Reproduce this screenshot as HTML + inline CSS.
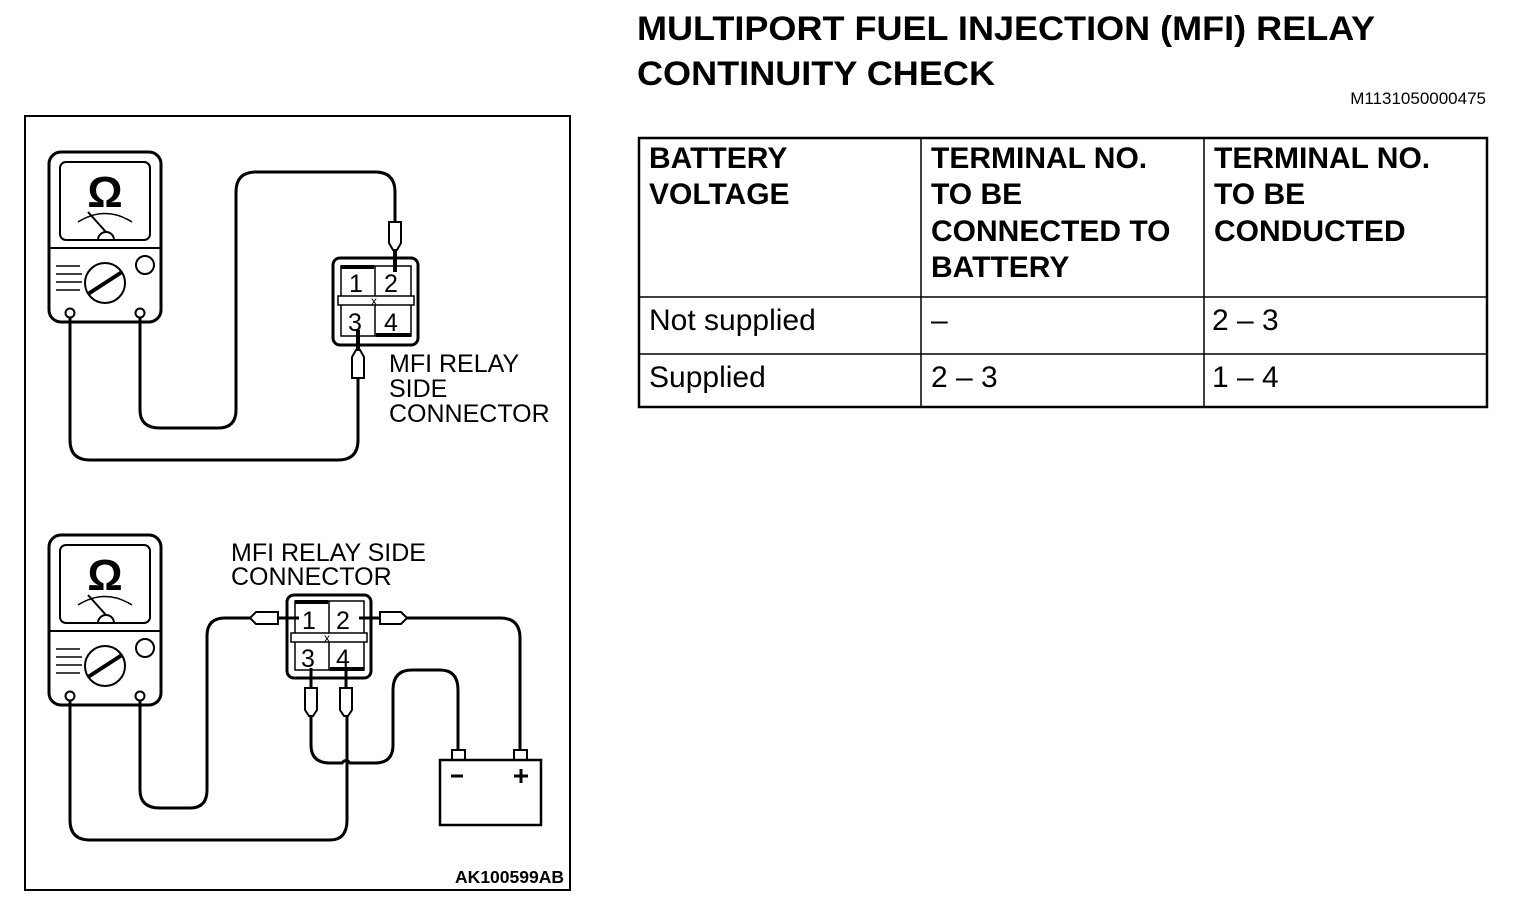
<!DOCTYPE html>
<html><head><style>
body{margin:0;background:#fff;width:1520px;height:908px;overflow:hidden;font-family:"Liberation Sans",sans-serif;}
svg{position:absolute;left:0;top:0}
</style></head><body>
<svg width="1520" height="908" viewBox="0 0 1520 908" font-family="Liberation Sans, sans-serif">
<defs>
<g id="meter" fill="none" stroke="#000" stroke-width="3">
<rect x="49" y="152" width="112" height="170" rx="12"/>
<rect x="60" y="162" width="90" height="78" rx="6" stroke-width="2"/>
<line x1="49" y1="248" x2="161" y2="248" stroke-width="2"/>
<text x="105" y="207" font-size="44" font-weight="bold" text-anchor="middle" fill="#000" stroke="none">Ω</text>
<path d="M78 222 Q105 205 132 222" stroke-width="1.5"/>
<line x1="88" y1="212" x2="106" y2="232" stroke-width="2"/>
<path d="M98 240 A8 8 0 0 1 114 240" stroke-width="2"/>
<circle cx="105" cy="283" r="20" stroke-width="2"/>
<line x1="88" y1="294" x2="122" y2="272" stroke-width="4"/>
<circle cx="145" cy="265" r="9" stroke-width="2"/>
<path d="M56 266 H80 M56 274 H82 M56 282 H82 M56 290 H80" stroke-width="1.5"/>
<circle cx="70" cy="313" r="4.5" stroke-width="2"/>
<circle cx="140" cy="313" r="4.5" stroke-width="2"/>
</g>
</defs>
<rect x="25" y="116" width="545" height="774" fill="none" stroke="#000" stroke-width="2"/>
<use href="#meter"/>
<use href="#meter" y="383"/>
<g fill="none" stroke="#000" stroke-width="3">
<path d="M70 318 V440 Q70 460 90 460 H338 Q358 460 358 440 V378"/>
<path d="M140 318 V410 Q140 428 160 428 H218 Q236 428 236 410 V192 Q236 172 256 172 H375 Q395 172 395 192 V222"/>
<path d="M389 222 H401 V243 L397 250 H393 L389 243 Z" stroke-width="2"/>
<line x1="395" y1="250" x2="395" y2="272" stroke-width="4"/>
<path d="M352 378 H364 V357 L360 350 H356 L352 357 Z" stroke-width="2"/>
<line x1="358" y1="350" x2="358" y2="330" stroke-width="4"/>
<rect x="333" y="258" width="85" height="87" rx="7"/>
<rect x="341" y="266" width="70" height="70" stroke-width="1.5"/>
<line x1="375" y1="266" x2="375" y2="336" stroke-width="1.5"/>
<rect x="338" y="296" width="76" height="9" fill="#fff" stroke-width="1.5"/>
<line x1="341" y1="267" x2="374" y2="267" stroke-width="4"/>
<line x1="376" y1="335" x2="411" y2="335" stroke-width="4"/>
<rect x="287" y="595" width="84" height="83" rx="7"/>
<rect x="295" y="601" width="69" height="69" stroke-width="1.5"/>
<line x1="329" y1="601" x2="329" y2="670" stroke-width="1.5"/>
<rect x="291" y="633" width="76" height="9" fill="#fff" stroke-width="1.5"/>
<line x1="295" y1="602" x2="328" y2="602" stroke-width="4"/>
<line x1="330" y1="669" x2="364" y2="669" stroke-width="4"/>
<path d="M250 618 L256 612 H278 V624 H256 Z" stroke-width="2"/>
<line x1="278" y1="618" x2="299" y2="618" stroke-width="3"/>
<path d="M407 618 L401 612 H380 V624 H401 Z" stroke-width="2"/>
<line x1="380" y1="618" x2="359" y2="618" stroke-width="3"/>
<path d="M305 688 H317 V710 L313 716 H309 L305 710 Z" stroke-width="2"/>
<line x1="311" y1="688" x2="311" y2="668" stroke-width="3"/>
<path d="M340 688 H352 V710 L348 716 H344 L340 710 Z" stroke-width="2"/>
<line x1="346" y1="688" x2="346" y2="668" stroke-width="3"/>
<path d="M70 701 V820 Q70 840 90 840 H330 Q347 840 347 820 V716"/>
<path d="M140 701 V790 Q140 808 160 808 H190 Q207 808 207 790 V636 Q207 618 225 618 H250"/>
<path d="M407 618 H500 Q520 618 520 638 V750"/>
<path d="M458 750 V690 Q458 670 440 670 H412 Q393 670 393 690 V745 Q393 763 375 763 H350 Q346 758 342 763 H330 Q311 763 311 745 V716"/>
<rect x="440" y="760" width="101" height="65" stroke-width="2.5"/>
<rect x="452" y="750" width="13" height="10" stroke-width="2"/>
<rect x="514" y="750" width="13" height="10" stroke-width="2"/>
<line x1="451" y1="776" x2="463" y2="776"/>
<line x1="514" y1="776" x2="528" y2="776"/><line x1="521" y1="769" x2="521" y2="783"/>
</g>
<g font-size="25" fill="#000">
<text x="349" y="292">1</text><text x="384" y="292">2</text>
<text x="348" y="331">3</text><text x="384" y="331">4</text>
<text x="371" y="305" font-size="12">x</text>
<text x="302" y="629">1</text><text x="336" y="629">2</text>
<text x="301" y="667">3</text><text x="336" y="667">4</text>
<text x="324" y="642" font-size="12">x</text>
</g>
<g font-size="25" fill="#000">
<text x="389" y="372">MFI RELAY</text><text x="389" y="397">SIDE</text><text x="389" y="422">CONNECTOR</text>
<text x="231" y="561">MFI RELAY SIDE</text><text x="231" y="585">CONNECTOR</text>
</g>
<text x="564" y="883" font-size="17.5" font-weight="bold" text-anchor="end">AK100599AB</text>
<g font-weight="bold" font-size="34">
<text x="637" y="40" textLength="738" lengthAdjust="spacingAndGlyphs">MULTIPORT FUEL INJECTION (MFI) RELAY</text>
<text x="637" y="85" textLength="358" lengthAdjust="spacingAndGlyphs">CONTINUITY CHECK</text>
</g>
<text x="1486" y="104" font-size="17" text-anchor="end">M1131050000475</text>
<g fill="none" stroke="#000">
<rect x="639" y="138" width="848" height="269" stroke-width="2.5"/>
<line x1="639" y1="297" x2="1487" y2="297" stroke-width="1.5"/>
<line x1="639" y1="354" x2="1487" y2="354" stroke-width="1.5"/>
<line x1="921" y1="138" x2="921" y2="407" stroke-width="1.5"/>
<line x1="1204" y1="138" x2="1204" y2="407" stroke-width="1.5"/>
</g>
<g font-size="30" font-weight="bold">
<text x="649" y="168">BATTERY</text><text x="649" y="204">VOLTAGE</text>
<text x="931" y="168">TERMINAL NO.</text><text x="931" y="204">TO BE</text><text x="931" y="241">CONNECTED TO</text><text x="931" y="277">BATTERY</text>
<text x="1214" y="168">TERMINAL NO.</text><text x="1214" y="204">TO BE</text><text x="1214" y="241">CONDUCTED</text>
</g>
<g font-size="30">
<text x="649" y="330">Not supplied</text><text x="931" y="330">–</text><text x="1212" y="330">2 – 3</text>
<text x="649" y="387">Supplied</text><text x="931" y="387">2 – 3</text><text x="1212" y="387">1 – 4</text>
</g>
</svg>
</body></html>
